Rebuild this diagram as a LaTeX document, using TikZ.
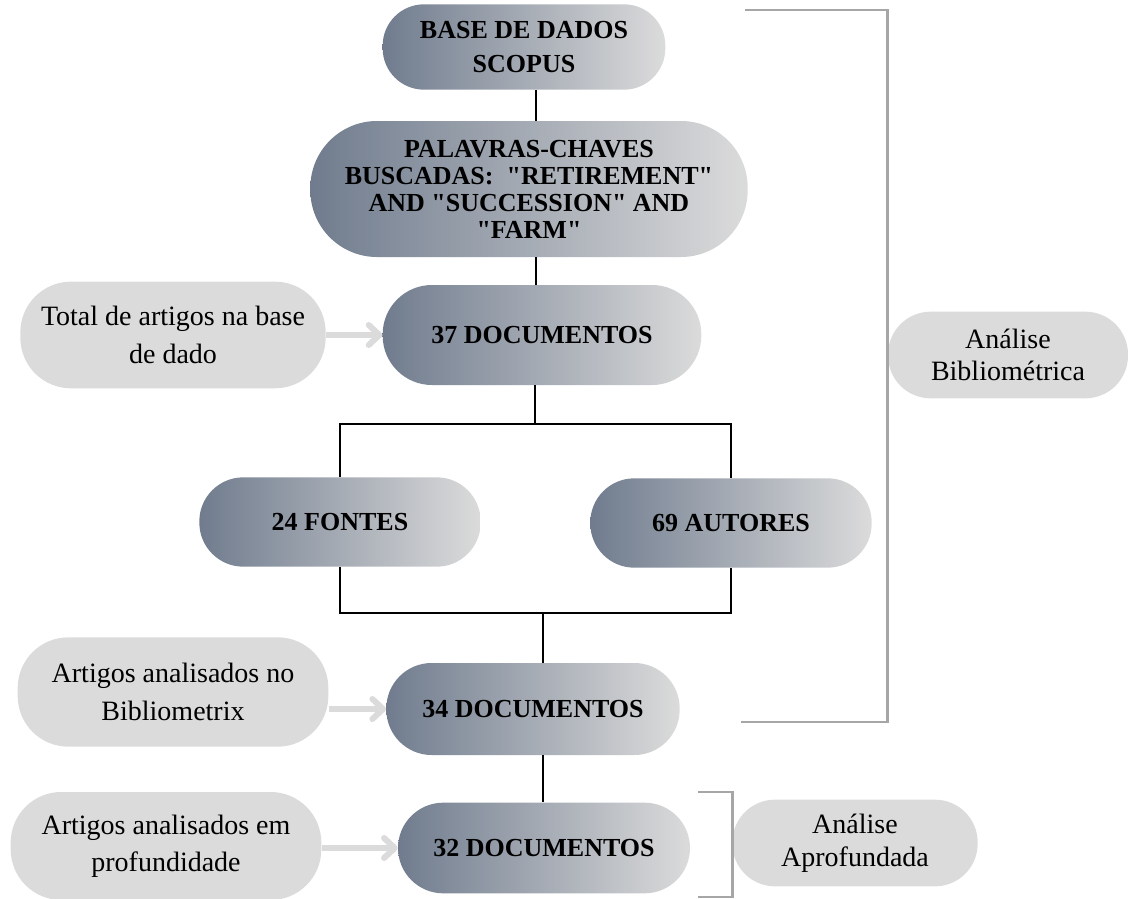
\documentclass[tikz,border=0pt]{standalone}
\usepackage{fontspec}
\setmainfont{Liberation Serif}
\usetikzlibrary{arrows.meta}
\definecolor{ardosia}{RGB}{112,124,142}
\definecolor{cinzaclaro}{RGB}{219,219,219}
\definecolor{cinzalinha}{RGB}{166,166,166}
\newcommand{\aspas}{\textquotedbl}
\begin{document}
\begin{tikzpicture}[x=0.75pt,y=-0.75pt,
            etapa/.style={left color=ardosia, right color=cinzaclaro, rounded corners=33pt, inner sep=0pt, align=center, font=\bfseries\fontsize{19.5}{26}\selectfont},
            lado/.style={fill=cinzaclaro, rounded corners=38pt, inner sep=0pt, align=center, font=\fontsize{21}{28}\selectfont},
            analise/.style={fill=cinzaclaro, rounded corners=32pt, inner sep=0pt, align=center, font=\fontsize{21}{24.5}\selectfont},
            linha/.style={draw=black, line width=2.2pt},
            seta/.style={draw=cinzaclaro, line width=4.5pt, -{Straight Barb[length=8pt,width=15pt,round]}},
            colchete/.style={draw=cinzalinha, line width=2.2pt}]
            \useasboundingbox (0,0) rectangle (1128,899);
            \node[etapa, minimum width=212pt, minimum height=64pt, rounded corners=31pt] (base) at (524,47) {BASE DE DADOS\\SCOPUS};
            \node[etapa, minimum width=328pt, minimum height=102pt, rounded corners=50pt, font=\bfseries\fontsize{19.5}{20.3}\selectfont] (palavras) at (529,189) {PALAVRAS-CHAVES\\BUSCADAS:\ \ \aspas RETIREMENT\aspas\\AND \aspas SUCCESSION\aspas\ AND\\\aspas FARM\aspas};
            \node[etapa, minimum width=239pt, minimum height=75pt, rounded corners=37pt] (doc37) at (542,335) {37 DOCUMENTOS};
            \node[etapa, minimum width=211pt, minimum height=67pt] (fontes) at (340,522) {24 FONTES};
            \node[etapa, minimum width=211pt, minimum height=67pt] (autores) at (731,523) {69 AUTORES};
            \node[etapa, minimum width=220pt, minimum height=69pt, rounded corners=34pt] (doc34) at (533,709) {34 DOCUMENTOS};
            \node[etapa, minimum width=219pt, minimum height=68pt, rounded corners=34pt] (doc32) at (544,848) {32 DOCUMENTOS};
            \node[lado, minimum width=229pt, minimum height=80pt] (total) at (173,335) {Total de artigos na base\\de dado};
            \node[lado, minimum width=233pt, minimum height=82pt] (biblio) at (173,692) {Artigos analisados no\\Bibliometrix};
            \node[lado, minimum width=233pt, minimum height=81pt] (profund) at (166,846) {Artigos analisados em\\profundidade};
            \node[analise, minimum width=180pt, minimum height=65pt] (anbiblio) at (1008,355) {Análise\\Bibliométrica};
            \node[analise, minimum width=184pt, minimum height=65pt] (anaprof) at (855,843) {Análise\\Aprofundada};
            \coordinate (tronco) at (536,0);
            \coordinate (split) at (535,424);
            \coordinate (merge) at (543,613);
            \draw[linha] (base.south -| tronco) -- (palavras.north -| tronco);
            \draw[linha] (palavras.south -| tronco) -- (doc37.north -| tronco);
            \draw[linha] (doc37.south -| split) -- (split);
            \draw[linha] (fontes.north) |- (split) -| (autores.north);
            \draw[linha] (fontes.south) |- (merge) -| (autores.south);
            \draw[linha] (merge) -- (doc34.north -| merge);
            \draw[linha] (doc34.south -| merge) -- (doc32.north -| merge);
            \draw[seta] (total) -- (doc37);
            \draw[seta] (biblio.east |- doc34) -- (doc34.west);
            \draw[seta] (profund.east |- doc32) -- (doc32.west);
            \coordinate (b1top) at (745,10);
            \coordinate (b1bot) at (741,722);
            \coordinate (b2top) at (698,792);
            \coordinate (b2bot) at (698,897);
            \draw[colchete] (b1top) -- (b1top -| anbiblio.west) -- (b1bot -| anbiblio.west) -- (b1bot);
            \draw[colchete] (b2top) -- (b2top -| anaprof.west) -- (b2bot -| anaprof.west) -- (b2bot);
\end{tikzpicture}
\end{document}
